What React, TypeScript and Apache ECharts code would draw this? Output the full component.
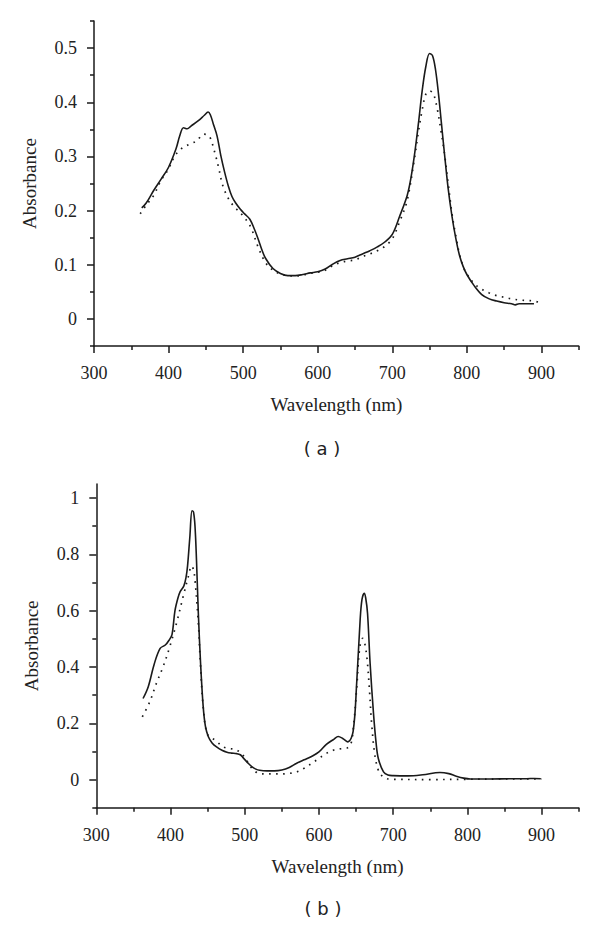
import React, { useEffect, useRef } from "react";
import * as echarts from "echarts";

// ---- Data ----
const xMajorTicks = [300, 400, 500, 600, 700, 800, 900];
const xMinorTicks = [350, 450, 550, 650, 750, 850, 950];
const yMajorTicksA = [0, 0.1, 0.2, 0.3, 0.4, 0.5];
const yMinorTicksA = [-0.05, 0.05, 0.15, 0.25, 0.35, 0.45, 0.55];
const yMajorTicksB = [0, 0.2, 0.4, 0.6, 0.8, 1];
const yMinorTicksB = [-0.1, 0.1, 0.3, 0.5, 0.7, 0.9];

const panelLabels = ["( a )", "( b )"];

// Panel (a): solid
const aSolid: [number, number][] = [
  [364, 0.205], [370, 0.214], [380, 0.237], [390, 0.258], [400, 0.28], [410, 0.314],
  [415, 0.338], [420, 0.353], [425, 0.351], [430, 0.356], [440, 0.366], [448, 0.376],
  [453, 0.382], [456, 0.377], [460, 0.36], [465, 0.338], [470, 0.302], [475, 0.272],
  [480, 0.246], [485, 0.226], [490, 0.214], [496, 0.203], [502, 0.194], [509, 0.184],
  [515, 0.166], [520, 0.148], [525, 0.128], [530, 0.112], [540, 0.093], [550, 0.084],
  [560, 0.08], [570, 0.08], [580, 0.082], [590, 0.085], [600, 0.087], [610, 0.092],
  [620, 0.101], [630, 0.108], [640, 0.111], [650, 0.114], [660, 0.12], [670, 0.126],
  [680, 0.133], [690, 0.142], [700, 0.156], [710, 0.19], [720, 0.228], [725, 0.26],
  [730, 0.305], [735, 0.36], [740, 0.42], [745, 0.466], [750, 0.49], [754, 0.486],
  [758, 0.46], [762, 0.415], [766, 0.36], [770, 0.305], [775, 0.24], [780, 0.19],
  [785, 0.15], [790, 0.118], [795, 0.097], [800, 0.082], [810, 0.061], [820, 0.045],
  [830, 0.037], [840, 0.033], [850, 0.03], [860, 0.028], [865, 0.026], [870, 0.028],
  [880, 0.028], [890, 0.028],
];

// Panel (a): dotted
const aDotted: [number, number][] = [
  [362, 0.194], [370, 0.21], [380, 0.228], [390, 0.256], [400, 0.277], [406, 0.295],
  [413, 0.309], [420, 0.317], [429, 0.323], [438, 0.329], [447, 0.341], [452, 0.34],
  [456, 0.334], [462, 0.307], [467, 0.28], [473, 0.245], [482, 0.218], [491, 0.203],
  [500, 0.19], [510, 0.17], [520, 0.133], [530, 0.104], [540, 0.09], [550, 0.083],
  [560, 0.08], [570, 0.079], [580, 0.081], [590, 0.084], [600, 0.086], [610, 0.09],
  [620, 0.098], [630, 0.104], [640, 0.107], [650, 0.109], [660, 0.115], [670, 0.12],
  [680, 0.126], [690, 0.134], [700, 0.148], [710, 0.18], [720, 0.219], [730, 0.298],
  [735, 0.345], [740, 0.385], [745, 0.415], [750, 0.421], [755, 0.416], [760, 0.39],
  [765, 0.35], [770, 0.305], [775, 0.25], [780, 0.195], [785, 0.155], [790, 0.12],
  [795, 0.097], [800, 0.083], [810, 0.065], [820, 0.055], [830, 0.048], [840, 0.043],
  [850, 0.04], [860, 0.037], [870, 0.035], [880, 0.034], [890, 0.033], [896, 0.031],
];

// Panel (b): solid
const bSolid: [number, number][] = [
  [363, 0.288], [370, 0.33], [378, 0.41], [386, 0.466], [393, 0.478], [398, 0.495],
  [402, 0.515], [406, 0.6], [410, 0.645], [413, 0.668], [418, 0.688], [421, 0.72],
  [423, 0.76], [426, 0.86], [429, 0.955], [431, 0.95], [433, 0.9], [435, 0.78],
  [437.5, 0.59], [440.5, 0.413], [444, 0.26], [447, 0.19], [451, 0.152], [456, 0.13],
  [462, 0.116], [470, 0.103], [476, 0.097], [482, 0.094], [489, 0.092], [494, 0.088],
  [498, 0.077], [505, 0.057], [510, 0.045], [515, 0.037], [520, 0.033], [530, 0.031],
  [540, 0.031], [550, 0.034], [560, 0.043], [570, 0.058], [580, 0.07], [590, 0.082],
  [600, 0.098], [610, 0.125], [620, 0.143], [626, 0.153], [632, 0.146], [639, 0.134],
  [646, 0.17], [651, 0.35], [655.5, 0.567], [658, 0.64], [661, 0.662], [663, 0.645],
  [665.5, 0.59], [669, 0.41], [673.5, 0.235], [677, 0.13], [680, 0.075], [687, 0.027],
  [693, 0.016], [700, 0.014], [720, 0.013], [740, 0.017], [763, 0.025], [775, 0.021],
  [785, 0.012], [795, 0.005], [804, 0.002], [830, 0.002], [860, 0.003], [880, 0.003],
  [890, 0.004], [899, 0.003],
];

// Panel (b): dotted
const bDotted: [number, number][] = [
  [362, 0.223], [372, 0.276], [381, 0.342], [390, 0.401], [399, 0.472], [408, 0.555],
  [417, 0.65], [424, 0.721], [428.5, 0.759], [431, 0.745], [433, 0.709], [437.5, 0.555],
  [440, 0.425], [444, 0.258], [449, 0.164], [455, 0.148], [460, 0.14], [471, 0.116],
  [480, 0.11], [487, 0.107], [492, 0.1], [500, 0.079], [505, 0.058], [510, 0.039],
  [515, 0.027], [520, 0.021], [530, 0.02], [540, 0.02], [550, 0.02], [560, 0.022],
  [570, 0.027], [580, 0.04], [590, 0.057], [600, 0.075], [610, 0.093], [620, 0.105],
  [630, 0.11], [638, 0.112], [643, 0.125], [647, 0.2], [651, 0.33], [655, 0.47],
  [659, 0.502], [662, 0.48], [665, 0.424], [668, 0.32], [671, 0.2], [675, 0.093],
  [680, 0.033], [686, 0.01], [692, 0.003], [700, 0.001], [750, 0], [800, 0.001],
  [850, 0.002], [900, 0.002],
];

const INK = "#1a1a1a";
const TEXT = "#222";
const SERIF = "Liberation Serif";
const SANS = "DejaVu Sans";

function mainX(grid: number) {
  return {
    type: "value",
    gridIndex: grid,
    position: "bottom",
    min: 300,
    max: 950,
    name: "Wavelength (nm)",
    nameLocation: "middle",
    nameGap: 49,
    nameTextStyle: { fontFamily: SERIF, fontSize: 19, color: TEXT },
    axisLine: { show: true, onZero: false, lineStyle: { color: INK, width: 1.5 } },
    axisTick: { show: true, customValues: xMajorTicks, length: 7, lineStyle: { color: INK, width: 1.5 } },
    axisLabel: { show: true, customValues: xMajorTicks, margin: 18, fontFamily: SERIF, fontSize: 18, color: TEXT },
    splitLine: { show: false },
  };
}
function minorX(grid: number) {
  return {
    type: "value",
    gridIndex: grid,
    position: "bottom",
    min: 300,
    max: 950,
    axisLine: { show: false, onZero: false },
    axisTick: { show: true, customValues: xMinorTicks, length: 4, lineStyle: { color: INK, width: 1.5 } },
    axisLabel: { show: false },
    splitLine: { show: false },
  };
}
function mainY(grid: number, min: number, max: number, major: number[]) {
  return {
    type: "value",
    gridIndex: grid,
    position: "left",
    min,
    max,
    name: "Absorbance",
    nameLocation: "middle",
    nameGap: 55,
    nameTextStyle: { fontFamily: SERIF, fontSize: 19, color: TEXT },
    axisLine: { show: true, onZero: false, lineStyle: { color: INK, width: 1.5 } },
    axisTick: { show: true, customValues: major, length: 7, lineStyle: { color: INK, width: 1.5 } },
    axisLabel: { show: true, customValues: major, margin: 17, fontFamily: SERIF, fontSize: 18, color: TEXT },
    splitLine: { show: false },
  };
}
function minorY(grid: number, min: number, max: number, minor: number[]) {
  return {
    type: "value",
    gridIndex: grid,
    position: "left",
    min,
    max,
    axisLine: { show: false, onZero: false },
    axisTick: { show: true, customValues: minor, length: 4, lineStyle: { color: INK, width: 1.5 } },
    axisLabel: { show: false },
    splitLine: { show: false },
  };
}

function lineSeries(data: [number, number][], grid: number, dotted: boolean) {
  return {
    type: "line",
    xAxisIndex: grid * 2,
    yAxisIndex: grid * 2,
    data,
    showSymbol: false,
    smooth: 0.35,
    silent: true,
    lineStyle: dotted
      ? { color: INK, width: 1.7, type: [1.6, 5.4], cap: "butt" }
      : { color: INK, width: 1.6, type: "solid" },
  };
}

export default function App() {
  const ref = useRef<HTMLDivElement>(null);
  useEffect(() => {
    if (!ref.current) return;
    const chart = echarts.init(ref.current, undefined, { renderer: "svg" });
    chart.setOption({
      animation: false,
      backgroundColor: "#ffffff",
      textStyle: { fontFamily: SERIF },
      grid: [
        { left: 94, top: 21, width: 484.7, height: 325, outerBoundsMode: "none", containLabel: false },
        { left: 96.3, top: 484, width: 482.4, height: 323.7, outerBoundsMode: "none", containLabel: false },
      ],
      xAxis: [mainX(0), minorX(0), mainX(1), minorX(1)],
      yAxis: [
        mainY(0, -0.05, 0.55, yMajorTicksA),
        minorY(0, -0.05, 0.55, yMinorTicksA),
        mainY(1, -0.1, 1.05, yMajorTicksB),
        minorY(1, -0.1, 1.05, yMinorTicksB),
      ],
      series: [
        lineSeries(aSolid, 0, false),
        lineSeries(aDotted, 0, true),
        lineSeries(bSolid, 1, false),
        lineSeries(bDotted, 1, true),
      ],
      graphic: [
        {
          type: "text",
          x: 322,
          y: 448,
          style: { text: panelLabels[0], fontFamily: SANS, fontSize: 18, fill: TEXT, textAlign: "center", textVerticalAlign: "middle" },
        },
        {
          type: "text",
          x: 323,
          y: 908,
          style: { text: panelLabels[1], fontFamily: SANS, fontSize: 18, fill: TEXT, textAlign: "center", textVerticalAlign: "middle" },
        },
      ],
    });
    return () => chart.dispose();
  }, []);
  return (
    <div
      ref={ref}
      style={{ position: "absolute", left: 0, top: 0, width: 600, height: 925, background: "#fff" }}
    />
  );
}
